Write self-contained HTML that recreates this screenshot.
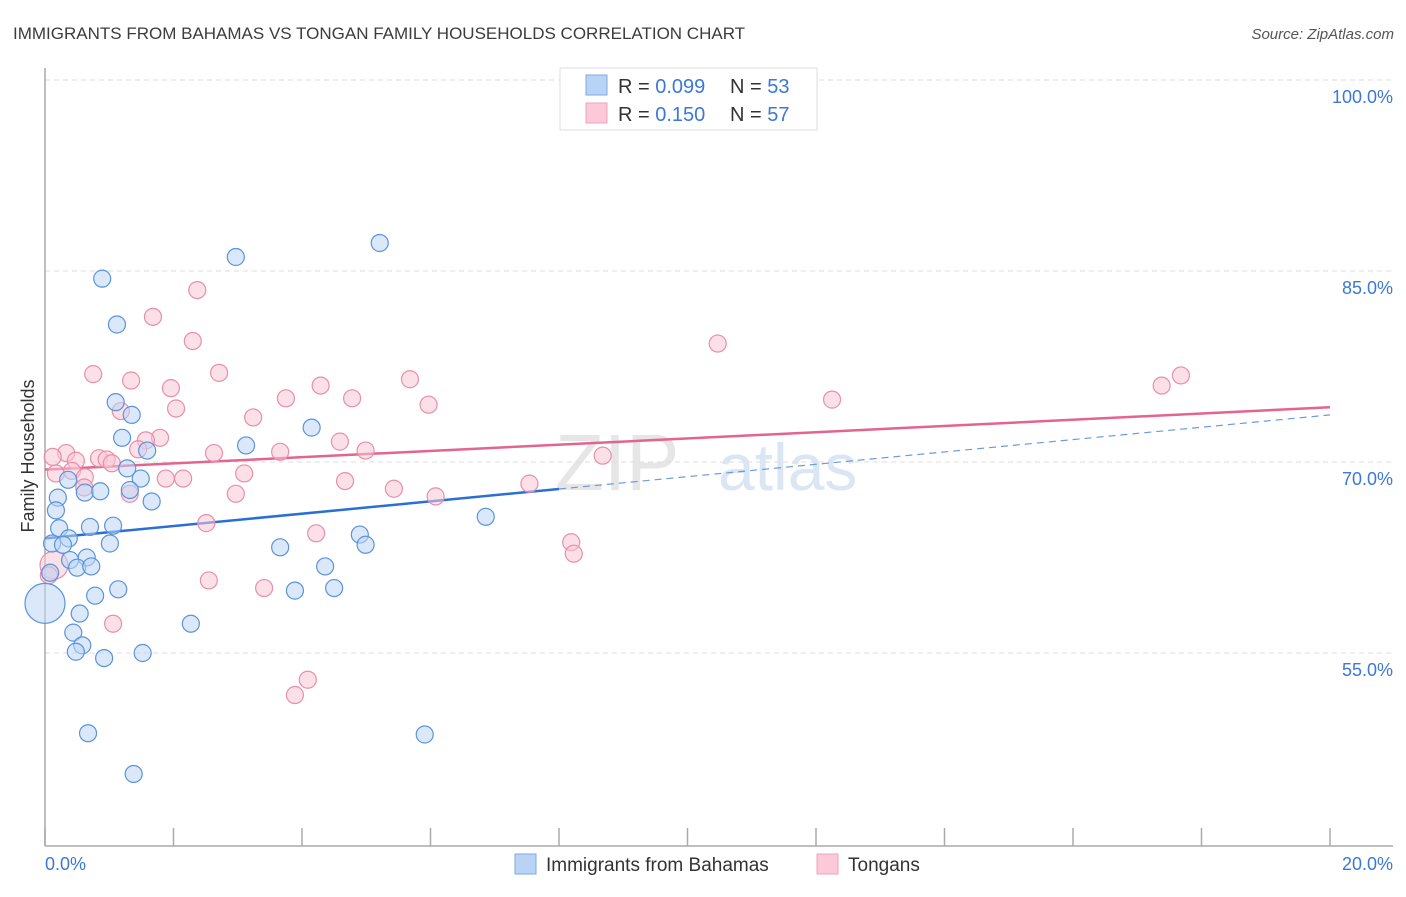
<!DOCTYPE html>
<html><head><meta charset="utf-8"><style>
html,body{margin:0;padding:0;background:#fff;}
body{width:1406px;height:892px;overflow:hidden;font-family:"Liberation Sans",sans-serif;}
svg text{font-family:"Liberation Sans",sans-serif;}
</style></head><body>
<svg id="chart" width="1406" height="892" viewBox="0 0 1406 892">
<text x="13" y="39" font-size="17" fill="#3c3c3c">IMMIGRANTS FROM BAHAMAS VS TONGAN FAMILY HOUSEHOLDS CORRELATION CHART</text>
<text x="1394" y="39" font-size="15" font-style="italic" fill="#555" text-anchor="end">Source: ZipAtlas.com</text>
<text x="555" y="490" font-size="80" fill="#e6e6e6" font-family="Liberation Serif">ZIP</text>
<text x="718" y="490" font-size="66" fill="#dbe6f4">atlas</text>
<g id="grid"></g>
<g id="axes"></g>
<g id="lines"></g>
<g id="points"></g>
<text transform="translate(34,456) rotate(-90)" font-size="18" fill="#333" text-anchor="middle">Family Households</text>
<g>
<rect x="560" y="68" width="257" height="62" fill="#fff" stroke="#ddd"/>
<rect x="586" y="75" width="21" height="20" fill="#b9d3f5" stroke="#7fa9e4"/>
<rect x="586" y="103" width="21" height="20" fill="#fbc9d7" stroke="#eea2b8"/>
<text x="618" y="93" font-size="20" fill="#333">R = <tspan fill="#3b78d8">0.099</tspan></text>
<text x="730" y="93" font-size="20" fill="#333">N = <tspan fill="#3b78d8">53</tspan></text>
<text x="618" y="121" font-size="20" fill="#333">R =  <tspan fill="#3b78d8">0.150</tspan></text>
<text x="730" y="121" font-size="20" fill="#333">N = <tspan fill="#3b78d8">57</tspan></text>
</g>
<g>
<rect x="515" y="854" width="21" height="20" fill="#b9d3f5" stroke="#7fa9e4"/>
<text x="546" y="871" font-size="19" fill="#333">Immigrants from Bahamas</text>
<rect x="817" y="854" width="21" height="20" fill="#fbc9d7" stroke="#eea2b8"/>
<text x="848" y="871" font-size="19" fill="#333">Tongans</text>
</g>
</svg>
<script>
const blueX=[5.21,2.97,0.89,1.12,1.10,1.35,4.15,1.20,3.13,1.59,1.28,1.49,0.36,1.32,0.62,0.86,0.20,1.66,0.17,6.86,0.22,0.70,1.06,0.37,4.90,0.11,0.28,1.01,3.66,4.99,0.39,0.65,0.50,0.72,4.36,0.08,1.14,3.89,4.50,0.78,0.0,0.54,2.27,0.44,0.58,0.48,1.52,0.92,0.67,5.91,1.38];
const blueY=[87.2,86.1,84.4,80.8,74.7,73.7,72.7,71.9,71.3,70.9,69.5,68.7,68.6,67.8,67.6,67.7,67.2,66.9,66.2,65.7,64.8,64.9,65.0,64.0,64.3,63.6,63.5,63.6,63.3,63.5,62.3,62.5,61.7,61.8,61.8,61.3,60.0,59.9,60.1,59.5,58.9,58.1,57.3,56.6,55.6,55.1,55.0,54.6,48.7,48.6,45.5];
const pinkX=[2.37,1.68,2.30,10.47,0.75,2.71,1.34,5.68,4.29,1.96,17.68,17.38,3.75,4.78,12.25,5.97,2.04,1.18,3.24,1.79,1.57,4.59,1.45,4.99,2.63,3.66,0.33,0.12,0.84,0.96,8.68,0.48,1.04,3.10,0.17,0.42,0.62,1.88,2.15,4.67,7.54,0.61,5.43,1.32,2.97,6.08,2.51,4.22,8.19,8.23,0.14,0.06,2.55,3.41,1.06,4.09,3.89];
const pinkY=[83.5,81.4,79.5,79.3,76.9,77.0,76.4,76.5,76.0,75.8,76.8,76.0,75.0,75.0,74.9,74.5,74.2,74.0,73.5,71.9,71.7,71.6,71.0,70.9,70.7,70.8,70.7,70.4,70.3,70.2,70.5,70.1,69.9,69.1,69.1,69.3,68.8,68.7,68.7,68.5,68.3,68.0,67.9,67.5,67.5,67.3,65.2,64.4,63.7,62.8,61.9,61.1,60.7,60.1,57.3,52.9,51.7];
const blueTrend=[64.0,73.7];
const pinkTrend=[69.4,74.3];
const yTicks=[100,85,70,55];
const yTickLabels=["100.0%","85.0%","70.0%","55.0%"];
const xTickLabels=["0.0%","20.0%"];
const NS="http://www.w3.org/2000/svg";
const X0=45,X1=1330,xs=v=>X0+(v/20)*(X1-X0);
const ys=v=>80+(100-v)*(191/15);
function mk(t,a,p){const e=document.createElementNS(NS,t);for(const k in a)e.setAttribute(k,a[k]);p.appendChild(e);return e;}
const grid=document.getElementById('grid'),axes=document.getElementById('axes'),lines=document.getElementById('lines'),pts=document.getElementById('points');
yTicks.forEach((t,i)=>{
 const l=mk('line',{x1:45,x2:1393,y1:ys(t),y2:ys(t),stroke:'#ddd','stroke-dasharray':'5,4'},grid);
 
 
 const tx=mk('text',{x:1393,y:ys(t)+23,'font-size':18,fill:'#3b78d8','text-anchor':'end'},axes);tx.textContent=yTickLabels[i];
 
 
});
const ax=mk('line',{x1:45,x2:45,y1:68,y2:846,stroke:'#aaa','stroke-width':1.5},axes);


const bx=mk('line',{x1:45,x2:1393,y1:846,y2:846,stroke:'#aaa','stroke-width':1.5},axes);


for(let i=0;i<=10;i++){const tk=mk('line',{x1:xs(i*2),x2:xs(i*2),y1:828,y2:846,stroke:'#aaa','stroke-width':1.5},axes);
 
 }
[[0,'start',45],[20,'end',1393]].forEach((d,i)=>{const t=mk('text',{x:d[2],y:870,'font-size':18,fill:'#3b78d8','text-anchor':d[1]},axes);t.textContent=xTickLabels[i];
 
 });
function pt(x,y,r,fill,stroke,name){const c=mk('circle',{cx:xs(x),cy:ys(y),r:r,fill:fill,'fill-opacity':0.55,stroke:stroke,'stroke-width':1.2},pts);
 
 }
pinkX.forEach((x,i)=>pt(x,pinkY[i],(i===50?14:8.5),'#f9c6d5','#e78fab','tongan-point'));
blueX.forEach((x,i)=>pt(x,blueY[i],(x===0?20:8.5),'#bcd5f5','#5b93dc','bahamas-point'));
const bSplit=8.0, bAt=x=>blueTrend[0]+(blueTrend[1]-blueTrend[0])*x/20;
const l1=mk('line',{x1:xs(0),y1:ys(bAt(0)),x2:xs(bSplit),y2:ys(bAt(bSplit)),stroke:'#2a6fd6','stroke-width':2.5},lines);


const l2=mk('line',{x1:xs(bSplit),y1:ys(bAt(bSplit)),x2:xs(20),y2:ys(bAt(20)),stroke:'#6a9be0','stroke-width':1.2,'stroke-dasharray':'7,5'},lines);


const l3=mk('line',{x1:xs(0),y1:ys(pinkTrend[0]),x2:xs(20),y2:ys(pinkTrend[1]),stroke:'#e5638f','stroke-width':2.5},lines);


</script>
</body></html>
